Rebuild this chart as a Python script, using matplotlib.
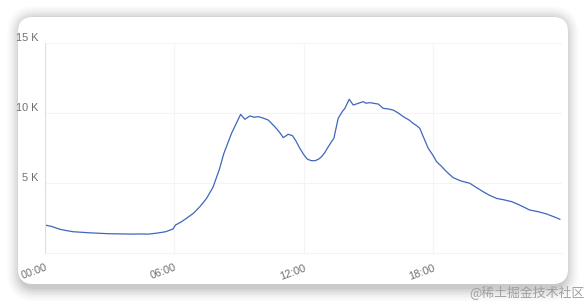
import matplotlib.pyplot as plt
from matplotlib.patches import FancyBboxPatch

plt.rcParams['font.family'] = ['Liberation Sans', 'Noto Sans CJK SC']

# hours of day and values (thousands)
hours = [0.0, 0.3, 0.7, 1.0, 1.3, 1.7, 2.1, 2.5, 2.9, 3.3, 3.7, 4.1, 4.4, 4.8, 5.2,
         5.6, 5.94, 6.06, 6.3, 6.57, 6.9, 7.19, 7.5, 7.8, 8.1, 8.3, 8.66, 9.08,
         9.28, 9.51, 9.7, 9.9, 10.1, 10.36, 10.67, 10.9, 11.06, 11.29, 11.49,
         11.65, 11.83, 12.0, 12.17, 12.35, 12.53, 12.7, 12.84, 13.0, 13.15,
         13.3, 13.41, 13.61, 13.8, 13.92, 14.12, 14.31, 14.54, 14.77, 14.9,
         15.08, 15.3, 15.47, 15.7, 15.9, 16.16, 16.4, 16.63, 16.9, 17.09, 17.25,
         17.4, 17.56, 17.79, 18.0, 18.18, 18.4, 18.56, 18.75, 18.95, 19.3,
         19.72, 20.0, 20.34, 20.6, 20.96, 21.3, 21.66, 22.0, 22.5, 22.9, 23.28,
         23.6, 23.9]
visits = [2.0, 1.9, 1.69, 1.6, 1.52, 1.48, 1.44, 1.41, 1.38, 1.37, 1.36, 1.35,
          1.36, 1.35, 1.42, 1.52, 1.71, 2.0, 2.2, 2.48, 2.85, 3.31, 3.9, 4.7,
          6.0, 7.1, 8.55, 9.9, 9.55, 9.79, 9.7, 9.74, 9.65, 9.5, 9.02, 8.6,
          8.24, 8.48, 8.38, 8.0, 7.48, 7.05, 6.71, 6.6, 6.59, 6.7, 6.88, 7.2,
          7.59, 7.95, 8.19, 9.62, 10.1, 10.33, 10.98, 10.57, 10.69, 10.81, 10.7,
          10.74, 10.68, 10.64, 10.33, 10.3, 10.21, 10.0, 9.74, 9.5, 9.26, 9.1,
          8.9, 8.31, 7.48, 7.0, 6.52, 6.2, 5.93, 5.65, 5.38, 5.15, 4.98, 4.7,
          4.38, 4.15, 3.9, 3.8, 3.67, 3.45, 3.07, 2.95, 2.79, 2.6, 2.41]
x_ticks = [0, 6, 12, 18]
x_labels = ['00:00', '06:00', '12:00', '18:00']
y_ticks = [5, 10, 15]
y_labels = ['5 K', '10 K', '15 K']

W, H = 586, 302
fig = plt.figure(figsize=(W / 100, H / 100), dpi=100)
fig.patch.set_facecolor('white')

# background axes in pixel units: card with soft shadow
bg = fig.add_axes([0, 0, 1, 1], zorder=0)
bg.set_xlim(0, W)
bg.set_ylim(H, 0)
bg.axis('off')
x0, y0, x1, y1 = 18, 17, 568, 284
for i, a in enumerate([0.015, 0.02, 0.025, 0.03, 0.035, 0.045, 0.05]):
    g = 14 - i * 2
    bg.add_patch(FancyBboxPatch((x0 - g + 3, y0 - g + 3),
                                x1 - x0 + 2 * g - 6, y1 - y0 + 2 * g,
                                boxstyle='round,pad=0,rounding_size=%d' % (15 + g),
                                facecolor='black', edgecolor='none', alpha=a))
bg.add_patch(FancyBboxPatch((x0, y0), x1 - x0, y1 - y0,
                            boxstyle='round,pad=0,rounding_size=15',
                            facecolor='white', edgecolor='none'))
bg.text(585, 292, '@稀土掘金技术社区', ha='right', va='center',
        fontsize=9.3, color='#a0a0a0', family=['Noto Sans CJK SC', 'DejaVu Sans'])

ax = fig.add_axes([45 / W, 1 - 253 / H, 517 / W, 210 / H], zorder=1)
ax.set_facecolor('none')
ax.plot(hours, visits, color='#3f66bd', linewidth=0.9)

ax.set_xlim(0, 24)
ax.set_ylim(0, 15)
ax.set_xticks(x_ticks)
ax.set_xticklabels(x_labels, rotation=20, ha='right', rotation_mode='anchor')
ax.set_yticks(y_ticks)
ax.set_yticklabels(y_labels)
for lab in ax.get_yticklabels():
    lab.set_va('bottom')
ax.tick_params(axis='both', length=0, labelsize=7.8, labelcolor='#6e6e6e')
ax.tick_params(axis='x', pad=7)
ax.tick_params(axis='y', pad=5)
ax.grid(True, color='#f4f4f4', linewidth=0.8)
ax.set_axisbelow(True)
for s in ['top', 'right']:
    ax.spines[s].set_visible(False)
ax.spines['left'].set_color('#e0e0e0')
ax.spines['left'].set_linewidth(0.8)
ax.spines['bottom'].set_color('#f4f4f4')
ax.spines['bottom'].set_linewidth(0.8)

fig.savefig('out.png', dpi=100)
